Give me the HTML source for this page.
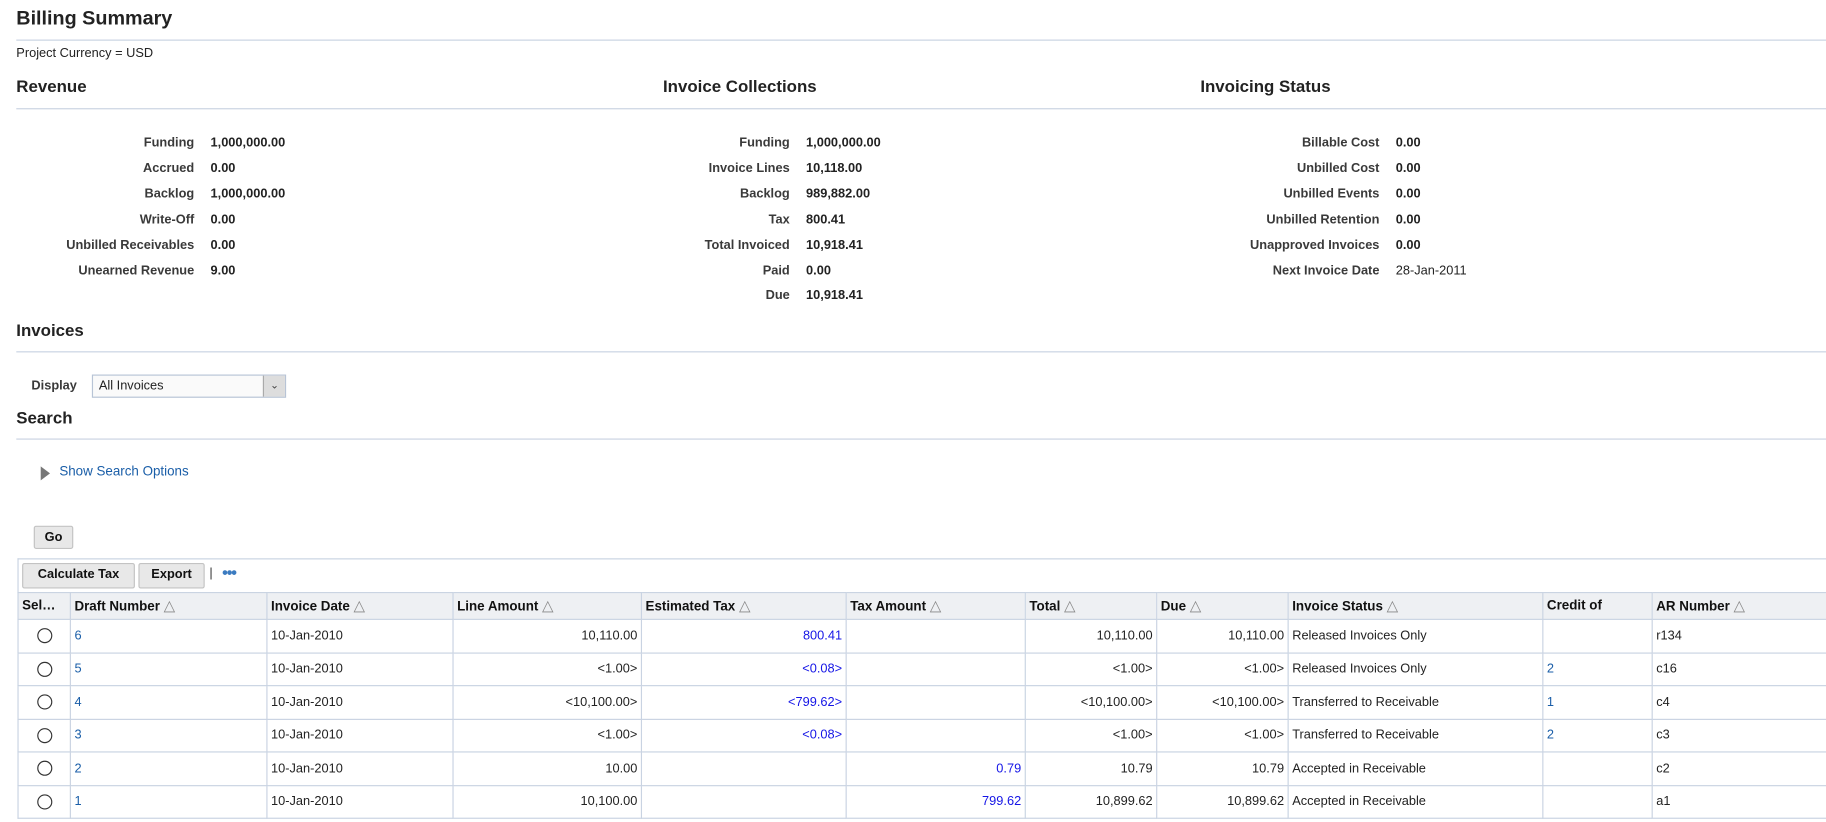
<!DOCTYPE html>
<html><head><meta charset="utf-8"><style>
html,body{margin:0;padding:0;background:#fff;overflow:hidden;width:1826px;height:822px}
#w{position:absolute;left:0;top:0;width:1570px;height:707px;transform:scale(1.1631);transform-origin:0 0;font-family:"Liberation Sans",Arial,sans-serif;font-size:11px;color:#222}
.a{position:absolute;white-space:nowrap}
.h1{font-size:17px;font-weight:bold;color:#222}
.h2{font-size:14.5px;font-weight:bold;color:#222}
.ln{position:absolute;height:1px;background:#c9d3e2;left:14px;width:1556px}
.lb{position:absolute;font-weight:bold;color:#3a3a3a;text-align:right;white-space:nowrap}
.v{position:absolute;font-weight:bold;color:#222;white-space:nowrap}
.lk{color:#1a5ea8}
.bl{color:#1515e6}
.btn{position:absolute;background:#e8e8e8;border:1px solid #c3c3c3;border-radius:2px;font-weight:bold;font-size:11px;color:#111;text-align:center;line-height:18px}
table{position:absolute;left:15px;top:509px;border-collapse:collapse;width:1556px;table-layout:fixed}
td,th{border:1px solid #c9d3e2;padding:0 3px;height:27.5px;font-weight:normal;white-space:nowrap;overflow:hidden}
th{height:22px;background:#eef0f3;font-weight:bold;text-align:left;font-size:11.5px;color:#111}
th .t{color:#888;font-size:13px;font-weight:normal}
.r{text-align:right}
.rd{display:inline-block;width:11px;height:11px;border:1px solid #333;border-radius:50%;vertical-align:middle}
</style></head><body><div id="w">
<div class="a h1" style="left:14px;top:6px">Billing Summary</div>
<div class="ln" style="top:34px"></div>
<div class="a" style="left:14px;top:40px">Project Currency = USD</div>
<div class="a h2" style="left:14px;top:67px">Revenue</div>
<div class="a h2" style="left:570px;top:67px">Invoice Collections</div>
<div class="a h2" style="left:1032px;top:67px">Invoicing Status</div>
<div class="ln" style="top:93px"></div>

<div class="lb" style="right:1403px;top:113px;line-height:21.9px">Funding<br>Accrued<br>Backlog<br>Write-Off<br>Unbilled Receivables<br>Unearned Revenue</div>
<div class="v" style="left:181px;top:113px;line-height:21.9px">1,000,000.00<br>0.00<br>1,000,000.00<br>0.00<br>0.00<br>9.00</div>

<div class="lb" style="right:891px;top:113px;line-height:21.9px">Funding<br>Invoice Lines<br>Backlog<br>Tax<br>Total Invoiced<br>Paid<br>Due</div>
<div class="v" style="left:693px;top:113px;line-height:21.9px">1,000,000.00<br>10,118.00<br>989,882.00<br>800.41<br>10,918.41<br>0.00<br>10,918.41</div>

<div class="lb" style="right:384px;top:113px;line-height:21.9px">Billable Cost<br>Unbilled Cost<br>Unbilled Events<br>Unbilled Retention<br>Unapproved Invoices<br>Next Invoice Date</div>
<div class="v" style="left:1200px;top:113px;line-height:21.9px">0.00<br>0.00<br>0.00<br>0.00<br>0.00<br><span style="font-weight:normal">28-Jan-2011</span></div>

<div class="a h2" style="left:14px;top:277px">Invoices</div>
<div class="ln" style="top:302px"></div>
<div class="lb" style="left:27px;top:326px">Display</div>
<div class="a" style="left:79px;top:322px;width:165px;height:18px;border:1px solid #b8c4d6;background:#fafafa"><span style="position:absolute;left:5px;top:3px">All Invoices</span><span style="position:absolute;right:0;top:0;width:18px;height:18px;background:#ddd;border-left:1px solid #aaa;text-align:center;line-height:17px;font-size:9px;color:#444">&#8964;</span></div>
<div class="a h2" style="left:14px;top:352px">Search</div>
<div class="ln" style="top:377px"></div>
<div class="a" style="left:35px;top:401px;width:0;height:0;border-top:6px solid transparent;border-bottom:6px solid transparent;border-left:8px solid #777"></div>
<div class="a lk" style="left:51px;top:400px;font-size:11.5px">Show Search Options</div>

<div class="btn" style="left:29px;top:452px;width:32px;height:18px">Go</div>
<div class="a" style="left:15px;top:480px;width:1555px;height:29px;border:1px solid #c9d3e2;border-bottom:none"></div>
<div class="btn" style="left:19px;top:484px;width:95px;height:20px">Calculate Tax</div>
<div class="btn" style="left:119px;top:484px;width:55px;height:20px">Export</div>
<div class="a" style="left:180px;top:487px;color:#333">|</div>
<div class="a" style="left:191px;top:484px;color:#3b7bc0;font-size:14px;letter-spacing:-1px;font-weight:bold">•••</div>

<table>
<colgroup><col style="width:45px"><col style="width:169px"><col style="width:160px"><col style="width:162px"><col style="width:176px"><col style="width:154px"><col style="width:113px"><col style="width:113px"><col style="width:219px"><col style="width:94px"><col></colgroup>
<tr><th>Sel…</th><th>Draft Number <span class="t">△</span></th><th>Invoice Date <span class="t">△</span></th><th>Line Amount <span class="t">△</span></th><th>Estimated Tax <span class="t">△</span></th><th>Tax Amount <span class="t">△</span></th><th>Total <span class="t">△</span></th><th>Due <span class="t">△</span></th><th>Invoice Status <span class="t">△</span></th><th>Credit of</th><th>AR Number <span class="t">△</span></th></tr>
<tr><td style="text-align:center"><span class="rd"></span></td><td class="lk">6</td><td>10-Jan-2010</td><td class="r">10,110.00</td><td class="r bl">800.41</td><td></td><td class="r">10,110.00</td><td class="r">10,110.00</td><td>Released Invoices Only</td><td></td><td>r134</td></tr>
<tr><td style="text-align:center"><span class="rd"></span></td><td class="lk">5</td><td>10-Jan-2010</td><td class="r">&lt;1.00&gt;</td><td class="r bl">&lt;0.08&gt;</td><td></td><td class="r">&lt;1.00&gt;</td><td class="r">&lt;1.00&gt;</td><td>Released Invoices Only</td><td class="lk">2</td><td>c16</td></tr>
<tr><td style="text-align:center"><span class="rd"></span></td><td class="lk">4</td><td>10-Jan-2010</td><td class="r">&lt;10,100.00&gt;</td><td class="r bl">&lt;799.62&gt;</td><td></td><td class="r">&lt;10,100.00&gt;</td><td class="r">&lt;10,100.00&gt;</td><td>Transferred to Receivable</td><td class="lk">1</td><td>c4</td></tr>
<tr><td style="text-align:center"><span class="rd"></span></td><td class="lk">3</td><td>10-Jan-2010</td><td class="r">&lt;1.00&gt;</td><td class="r bl">&lt;0.08&gt;</td><td></td><td class="r">&lt;1.00&gt;</td><td class="r">&lt;1.00&gt;</td><td>Transferred to Receivable</td><td class="lk">2</td><td>c3</td></tr>
<tr><td style="text-align:center"><span class="rd"></span></td><td class="lk">2</td><td>10-Jan-2010</td><td class="r">10.00</td><td></td><td class="r bl">0.79</td><td class="r">10.79</td><td class="r">10.79</td><td>Accepted in Receivable</td><td></td><td>c2</td></tr>
<tr><td style="text-align:center"><span class="rd"></span></td><td class="lk">1</td><td>10-Jan-2010</td><td class="r">10,100.00</td><td></td><td class="r bl">799.62</td><td class="r">10,899.62</td><td class="r">10,899.62</td><td>Accepted in Receivable</td><td></td><td>a1</td></tr>
</table>
</div></body></html>
